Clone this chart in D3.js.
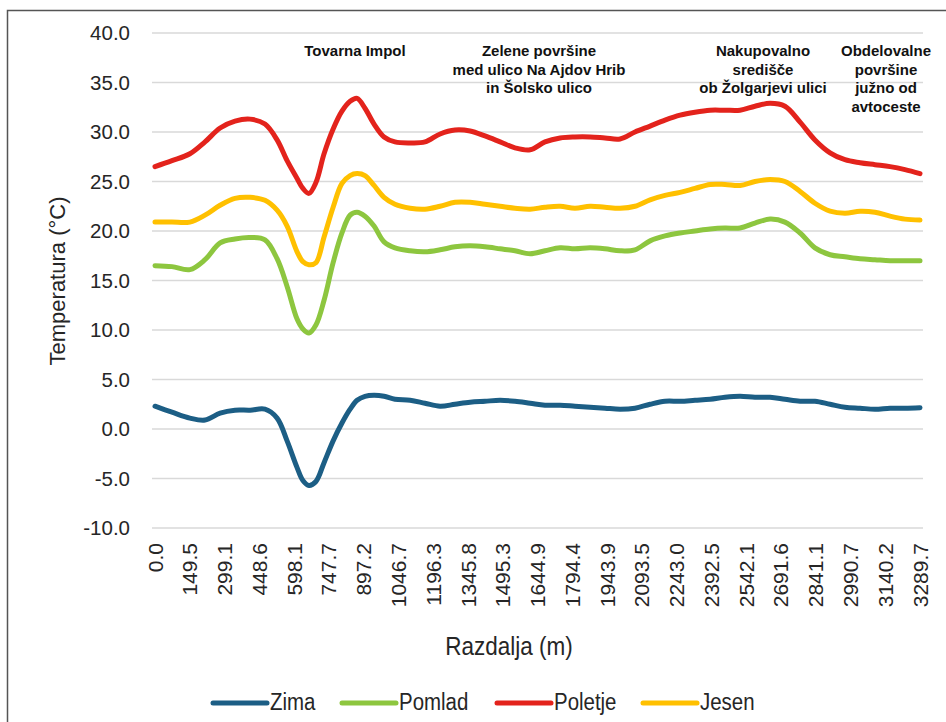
<!DOCTYPE html>
<html>
<head>
<meta charset="utf-8">
<script src="https://cdn.jsdelivr.net/npm/d3@7"></script>
<style>
  html, body { margin: 0; padding: 0; background: #fff; }
  svg { display: block; }
  text { font-family: "Liberation Sans", Arial, Helvetica, sans-serif; }
</style>
</head>
<body>
<svg id="chart" width="946" height="722"></svg>
<script>
// ---- data ----
const distance = [0,73,150,215,280,344,409,473,525,568,611,636,662,692,727,766,804,839,869,903,942,985,1032,1097,1161,1226,1290,1355,1419,1484,1548,1613,1677,1742,1806,1871,1935,2000,2064,2129,2193,2258,2322,2387,2451,2516,2580,2645,2709,2774,2838,2903,2967,3032,3096,3161,3225,3289.7];

const zima = [2.3,1.7,1.1,0.9,1.6,1.9,1.9,2.0,1.1,-1.2,-3.9,-5.2,-5.7,-5.3,-3.4,-1.2,0.6,2.0,2.9,3.3,3.4,3.3,3.0,2.9,2.6,2.3,2.5,2.7,2.8,2.9,2.8,2.6,2.4,2.4,2.3,2.2,2.1,2.0,2.1,2.5,2.8,2.8,2.9,3.0,3.2,3.3,3.2,3.2,3.0,2.8,2.8,2.5,2.2,2.1,2.0,2.1,2.1,2.15];

const pomlad = [16.5,16.4,16.1,17.1,18.8,19.2,19.35,19.1,17.2,14.4,11.1,10.1,9.7,10.5,13.0,16.8,19.8,21.6,21.9,21.5,20.5,18.9,18.3,18.0,17.9,18.1,18.4,18.5,18.4,18.2,18.0,17.7,18.0,18.3,18.2,18.3,18.2,18.0,18.1,19.0,19.5,19.8,20.0,20.2,20.3,20.3,20.8,21.2,20.9,19.8,18.3,17.6,17.4,17.2,17.1,17.0,17.0,17.0];

const poletje = [26.5,27.1,27.8,29.0,30.4,31.1,31.3,30.8,29.2,27.1,25.3,24.3,23.8,24.9,27.8,30.3,32.1,33.1,33.4,32.4,30.8,29.5,29.0,28.9,29.0,29.8,30.2,30.1,29.6,29.0,28.4,28.2,29.0,29.4,29.5,29.5,29.4,29.3,30.0,30.6,31.2,31.7,32.0,32.2,32.2,32.2,32.6,32.9,32.6,31.0,29.2,27.9,27.2,26.9,26.7,26.5,26.2,25.8];

const jesen = [20.9,20.9,20.9,21.6,22.6,23.3,23.4,23.1,22.1,20.5,17.9,16.9,16.6,16.8,19.4,22.4,24.8,25.6,25.8,25.6,24.6,23.4,22.7,22.3,22.2,22.5,22.9,22.9,22.7,22.5,22.3,22.2,22.4,22.5,22.3,22.5,22.4,22.3,22.5,23.15,23.6,23.9,24.3,24.7,24.7,24.6,25.0,25.2,25.0,24.0,22.8,22.0,21.8,22.0,21.9,21.5,21.2,21.1];

const seriesNames = ["Zima", "Pomlad", "Poletje", "Jesen"];
const seriesColors = ["#1c5e85", "#8dc63f", "#e3231c", "#ffc000"];
const seriesValues = [zima, pomlad, poletje, jesen];

const xTickLabels = ["0.0","149.5","299.1","448.6","598.1","747.7","897.2","1046.7","1196.3","1345.8","1495.3","1644.9","1794.4","1943.9","2093.5","2243.0","2392.5","2542.1","2691.6","2841.1","2990.7","3140.2","3289.7"];
const yTickLabels = ["-10.0","-5.0","0.0","5.0","10.0","15.0","20.0","25.0","30.0","35.0","40.0"];

const annotations = [
  ["Tovarna Impol"],
  ["Zelene površine", "med ulico Na Ajdov Hrib", "in Šolsko ulico"],
  ["Nakupovalno", "središče", "ob Žolgarjevi ulici"],
  ["Obdelovalne", "površine", "južno od", "avtoceste"]
];
const annotationX = [355, 539, 763, 886];

const xTitle = "Razdalja (m)";
const yTitle = "Temperatura (°C)";

// ---- drawing ----
const svg = d3.select("#chart");

// outer frame (top and left edges visible)
svg.append("path")
  .attr("d", "M7.5,722 L7.5,10.5 L946,10.5")
  .attr("fill", "none").attr("stroke", "#555").attr("stroke-width", 1.5);

const x = d3.scaleLinear().domain([0, 3289.7]).range([155, 920]);
const y = d3.scaleLinear().domain([-10, 40]).range([528, 33]);

// gridlines
svg.append("g").selectAll("line").data(yTickLabels).join("line")
  .attr("x1", 152).attr("x2", 923)
  .attr("y1", d => y(+d)).attr("y2", d => y(+d))
  .attr("stroke", "#d9d9d9").attr("stroke-width", 1.5);

// y tick labels
svg.append("g").selectAll("text").data(yTickLabels).join("text")
  .attr("x", 130).attr("y", d => y(+d)).attr("dy", "0.36em")
  .attr("text-anchor", "end")
  .attr("font-size", 20.5).attr("fill", "#262626")
  .text(d => d);

// x tick labels (rotated)
svg.append("g").selectAll("text").data(xTickLabels).join("text")
  .attr("transform", d => `translate(${x(+d)},543) rotate(-90)`)
  .attr("dy", "0.36em")
  .attr("text-anchor", "end")
  .attr("font-size", 21).attr("fill", "#262626")
  .text(d => d);

// axis titles
svg.append("text")
  .attr("transform", "translate(57,281) rotate(-90)")
  .attr("dy", "0.36em").attr("text-anchor", "middle")
  .attr("font-size", 22).attr("fill", "#262626")
  .text(yTitle);

svg.append("text")
  .attr("transform", "translate(509,655) scale(0.9,1)")
  .attr("text-anchor", "middle")
  .attr("font-size", 25).attr("fill", "#262626")
  .text(xTitle);

// lines
const line = d3.line()
  .x((d, i) => x(distance[i]))
  .y(d => y(d))
  .curve(d3.curveCatmullRom.alpha(0.5));

svg.append("g").selectAll("path").data(seriesValues).join("path")
  .attr("d", d => line(d))
  .attr("fill", "none")
  .attr("stroke", (d, i) => seriesColors[i])
  .attr("stroke-width", 5)
  .attr("stroke-linecap", "round")
  .attr("stroke-linejoin", "round");

// annotations
const ann = svg.append("g");
annotations.forEach((lines, k) => {
  lines.forEach((t, j) => {
    ann.append("text")
      .attr("x", annotationX[k]).attr("y", 56 + j * 18.5)
      .attr("text-anchor", "middle")
      .attr("font-size", 15).attr("font-weight", "bold").attr("fill", "#111")
      .text(t);
  });
});

// legend
const legendLineX = [213, 342, 497, 643];
const leg = svg.append("g");
seriesNames.forEach((name, i) => {
  leg.append("line")
    .attr("x1", legendLineX[i]).attr("x2", legendLineX[i] + 54)
    .attr("y1", 703).attr("y2", 703)
    .attr("stroke", seriesColors[i]).attr("stroke-width", 5)
    .attr("stroke-linecap", "round");
  leg.append("text")
    .attr("transform", `translate(${legendLineX[i] + 57},710) scale(0.87,1)`)
    .attr("font-size", 23.5).attr("fill", "#262626")
    .text(name);
});
</script>
</body>
</html>
